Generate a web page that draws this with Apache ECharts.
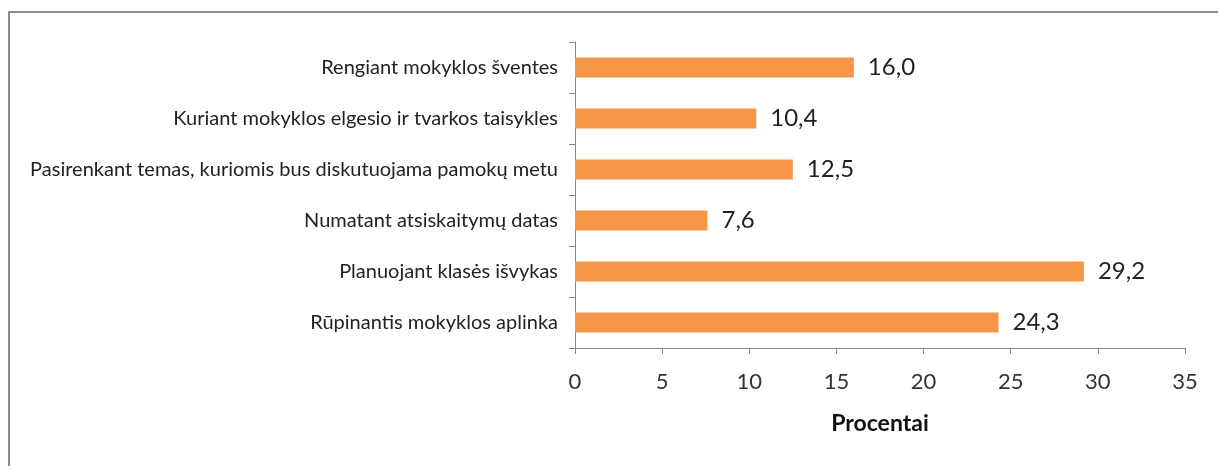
<!DOCTYPE html>
<html>
<head>
    <meta charset="utf-8">
    <title>Procentai</title>
    <script src="https://cdn.jsdelivr.net/npm/echarts@6.0.0/dist/echarts.min.js"></script>
    <style>
        html, body { margin: 0; padding: 0; background: #fff; overflow: hidden; }
        #frame {
            position: absolute; left: 8px; top: 11px; width: 1230px; height: 480px;
            border-top: 2px solid #8a8a8a; border-left: 2px solid #8a8a8a;
        }
        #chart { position: absolute; left: 0; top: 0; width: 1218px; height: 466px; }
    </style>
</head>
<body>
    <div id="frame"></div>
    <div id="chart"></div>
    <script>
        // kategorijos, iš viršaus į apačią
        var categories = [
            'Rengiant mokyklos šventes',
            'Kuriant mokyklos elgesio ir tvarkos taisykles',
            'Pasirenkant temas, kuriomis bus diskutuojama pamokų metu',
            'Numatant atsiskaitymų datas',
            'Planuojant klasės išvykas',
            'Rūpinantis mokyklos aplinka'
        ];
        var values = [16.0, 10.4, 12.5, 7.6, 29.2, 24.3];
        var xTicks = [0, 35, 5];   // min, max, interval

        var chart = echarts.init(document.getElementById('chart'));
        var option = {
            animation: false,
            textStyle: { fontFamily: 'Lato' },
            grid: { left: 575, right: 33, top: 42, bottom: 118 },
            xAxis: {
                type: 'value',
                min: xTicks[0],
                max: xTicks[1],
                interval: xTicks[2],
                name: 'Procentai',
                nameLocation: 'middle',
                nameGap: 64,
                nameTextStyle: { fontSize: 23, fontWeight: 'bold', color: '#111' },
                axisLine: { show: true, lineStyle: { color: '#868686', width: 1 } },
                axisTick: { show: true, length: 6, lineStyle: { color: '#868686' } },
                axisLabel: { fontSize: 22, color: '#333', margin: 23 },
                splitLine: { show: false }
            },
            yAxis: {
                type: 'category',
                inverse: true,
                data: categories,
                axisLine: { show: true, lineStyle: { color: '#868686', width: 1 } },
                axisTick: { show: true, length: 6, alignWithLabel: false, lineStyle: { color: '#868686' } },
                axisLabel: { fontSize: 20, color: '#222', margin: 17 }
            },
            series: [{
                type: 'bar',
                data: values,
                barWidth: 20,
                itemStyle: { color: '#F79646' },
                label: {
                    show: true,
                    position: 'right',
                    distance: 14,
                    fontSize: 24,
                    color: '#222',
                    formatter: function (p) {
                        return p.value.toFixed(1).replace('.', ',');
                    }
                }
            }]
        };
        chart.setOption(option);
    </script>
</body>
</html>
